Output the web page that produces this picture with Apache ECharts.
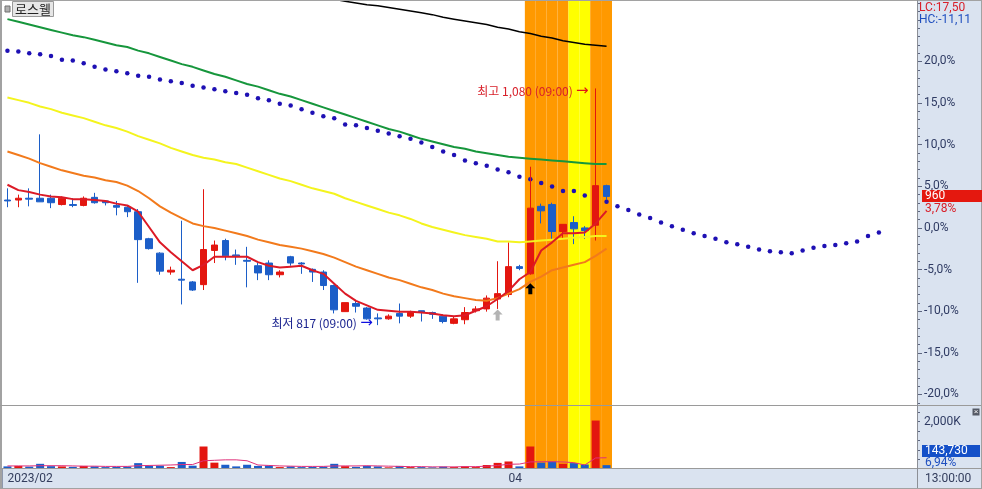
<!DOCTYPE html>
<html><head><meta charset="utf-8">
<script src="https://cdn.jsdelivr.net/npm/echarts@6.0.0/dist/echarts.min.js"></script>
<style>html,body{margin:0;padding:0;background:#fff}#c{width:982px;height:489px}</style>
</head><body><div id="c"></div>
<script>
// ---------------- data ----------------
const BASE = 925; // reference price for the % scale (960 = +3.78%)
const stockName = '로스웰';
const xTickLabels = {0: '2023/02', 46: '04'};
const categoryCount = 84;
const categories = Array.from({length: categoryCount}, (_, i) => 'D' + (i + 1));
// [open, close, low, high]
const ohlc = [
 [956,955,948,969],[956,958,948,962],[958,957,949,969],[958,954,954,1029],[958,953,947,962],
 [951,958,950,960],[951,950,948,958],[950,958,949,960],[959,953,952,964],[955,953,950,956],
 [950,948,939,955],[948,943,937,950],[943,912,864,946],[913,902,901,914],[897,877,873,898],
 [876,878,873,882],[868,867,840,933],[865,856,855,866],[862,901,856,968],[900,906,886,911],
 [911,894,889,913],[895,894,884,901],[889,888,859,904],[883,875,867,886],[886,873,867,889],
 [873,876,870,878],[893,886,883,894],[886,885,874,887],[879,876,865,880],[876,861,856,878],
 [861,834,830,862],[832,842,832,842],[841,838,831,845],[836,824,823,837],[825,824,817,830],
 [824,827,823,829],[830,827,819,841],[827,831,825,833],[833,831,821,833],[831,829,824,832],
 [827,821,819,829],[819,824,818,826],[823,831,818,837],[833,835,831,838],[835,847,832,850],
 [846,852,835,888],[851,882,848,909],[882,880,878,884],[874,947,873,993],[949,944,930,952],
 [951,921,912,953],[921,929,913,929],[931,924,907,938],[925,922,913,927],[928,972,911,1080],
 [972,960,956,973]
];
// volume, thousand shares
const volume = [90,110,80,200,100,90,70,110,90,60,70,80,230,110,120,60,280,120,940,250,
 160,90,160,110,120,60,90,60,70,80,200,100,70,110,90,50,110,60,60,50,
 80,60,90,60,150,240,300,90,940,250,300,200,230,170,2050,143.73];
const volumeAvg = [110,110,110,120,120,120,110,100,100,90,90,90,120,130,140,150,170,170,330,350,
 370,370,330,150,130,110,100,90,90,90,110,110,110,120,110,100,90,80,80,70,
 70,70,80,80,100,130,180,190,280,290,290,280,250,150,450,460];
const ma5 = [973,967,965,962,960,959,957,957,956,955,952,950,943,926,909,898,888,878,884,893,
 893,893,893,887,883,881,882,883,878,874,863,852,844,839,834,833,832,832,831,830,
 828,827,828,833,838,846,855,868,876,900,909,919,919,920,930,944];
const ma20 = [1010,1006,1002,997,993,989,986,983,981,978,976,972,966,958,949,942,936,930,927,925,
 922,919,916,912,909,906,904,902,899,896,892,887,882,878,874,870,867,863,859,856,
 852,849,847,845,844,847,852,857,865,871,878,881,884,887,894,902];
const ma60 = [1070,1067,1064,1060,1057,1053,1050,1047,1043,1039,1036,1032,1027,1023,1019,1014,1010,1006,1003,1001,
 998,996,992,988,984,980,977,973,969,966,963,958,954,950,946,942,939,935,930,926,
 923,920,917,915,913,910,910,909,910,911,912,913,914,915,916,916];
const ma120 = [1157,1154,1151,1148,1145,1142,1139,1137,1134,1131,1128,1126,1122,1119,1115,1111,1107,1104,1100,1096,
 1093,1089,1085,1082,1078,1074,1071,1067,1063,1059,1055,1051,1047,1043,1039,1035,1032,1028,1024,1021,
 1018,1015,1013,1010,1008,1006,1004,1003,1002,1001,1000,999,998,997,996,996];
const ma240 = [null,null,null,null,null,null,null,null,null,null,null,null,null,null,null,null,null,null,null,null,
 null,null,null,null,null,1189,1187,1184,1183,1181,1179,1177,1175,1173,1172,1170,1168,1166,1164,1162,
 1159,1157,1155,1153,1151,1148,1146,1143,1141,1138,1136,1133,1131,1129,1128,1127];
// forward-shifted line (drawn as dots), runs past the last candle
const leadLine = [1122,1121,1119,1118,1116,1112,1111,1108,1104,1101,1099,1097,1094,1093,1090,1088,1086,1083,1081,1079,
 1077,1075,1073,1069,1067,1063,1061,1057,1053,1049,1047,1040,1039,1036,1033,1030,1027,1024,1020,1015,
 1010,1006,1000,997,994,990,987,982,979,975,971,966,966,961,958,954,949,945,940,936,
 931,927,923,919,916,913,909,907,904,901,899,898,897,900,903,905,906,908,910,916,920];
const bands = [{from: 48, to: 52, kind: 'orange'}, {from: 52, to: 54, kind: 'yellow'}, {from: 54, to: 56, kind: 'orange'}];
const highMark = {index: 54, price: 1080, text: '최고 1,080 (09:00)'};
const lowMark = {index: 34, price: 817, text: '최저 817 (09:00)'};
const signals = [{index: 45, kind: 'gray'}, {index: 48, kind: 'black'}];
const pctTicks = [-20,-15,-10,-5,0,5,10,15,20];
const lastInfo = {price: '960', pct: '3,78%', vol: '143,730', volPct: '6,94%', lc: 'LC:17,50', hc: 'HC:-11,11', time: '13:00:00'};

// ---------------- chart ----------------
const RED = '#e3160f', BLUE = '#1c5ec8';
const NUMFONT = "Roboto, 'Liberation Sans', sans-serif";
const KRFONT = "'Noto Sans CJK KR', sans-serif";
const toPct = p => p == null ? null : (p / BASE - 1) * 100;
const ymax = 27.26, ymin = -21.27;
const chart = echarts.init(document.getElementById('c'));

const candleData = ohlc.map(([o, c, l, h]) => [toPct(o), toPct(c), toPct(l), toPct(h)]);
const bandColor = {orange: '#ff9900', yellow: '#ffff00'};
const bandData = categories.map((_, i) => {
  const b = bands.find(b => i >= b.from && i < b.to);
  return b ? {value: 1, itemStyle: {color: bandColor[b.kind]}} : '-';
});
const volData = volume.map((v, i) => ({value: v, itemStyle: {color: ohlc[i][1] >= ohlc[i][0] ? RED : BLUE}}));
const minorTicks = [];
for (let v = Math.ceil(ymin); v <= Math.floor(ymax); v++) minorTicks.push(v);
const arrowPath = 'path://M5,0 L10,5 L7,5 L7,11 L3,11 L3,5 L0,5 Z';

const lineS = (data, color, width, z) => ({
  type: 'line', xAxisIndex: 0, yAxisIndex: 0, data: data.map(toPct), symbol: 'none',
  lineStyle: {color, width}, z, silent: true, animation: false
});

const option = {
  backgroundColor: '#dae3f0',
  animation: false,
  grid: [
    {left: 2, width: 915, top: 1, height: 404, show: true, backgroundColor: '#ffffff', borderWidth: 0},
    {left: 2, width: 915, top: 406, height: 62.5, show: true, backgroundColor: '#ffffff', borderWidth: 0}
  ],
  xAxis: [
    {type: 'category', gridIndex: 0, data: categories, boundaryGap: true, show: false},
    {type: 'category', gridIndex: 1, data: categories, boundaryGap: true,
      axisLine: {show: true, lineStyle: {color: '#9da3ad', width: 1}},
      axisTick: {show: true, length: 20, interval: (i) => xTickLabels[i] !== undefined && i > 0, lineStyle: {color: '#8e98ad'}},
      axisLabel: {show: true, interval: (i) => xTickLabels[i] !== undefined, formatter: (v, i) => xTickLabels[i] || '',
        align: 'left', margin: 4, color: '#333d5c', fontSize: 12, fontFamily: NUMFONT}},
    {type: 'category', gridIndex: 1, data: categories, boundaryGap: true, show: false}
  ],
  yAxis: [
    {type: 'value', gridIndex: 0, position: 'right', min: ymin, max: ymax, splitLine: {show: false},
      axisLine: {show: true, lineStyle: {color: '#8c8f96'}},
      axisTick: {show: true, length: 5, customValues: pctTicks, lineStyle: {color: '#5d6680'}},
      axisLabel: {show: true, customValues: pctTicks, margin: 7, color: '#2f3b63', fontSize: 12, fontFamily: NUMFONT,
        formatter: v => v.toFixed(1).replace('.', ',') + '%'}},
    {type: 'value', gridIndex: 0, position: 'right', min: ymin, max: ymax, splitLine: {show: false},
      axisLine: {show: false}, axisLabel: {show: false},
      axisTick: {show: true, length: 3, customValues: minorTicks, lineStyle: {color: '#5d6680'}}},
    {type: 'value', gridIndex: 0, min: 0, max: 1, show: false},
    {type: 'value', gridIndex: 1, position: 'right', min: 0, max: 2671, splitLine: {show: false},
      axisLine: {show: true, lineStyle: {color: '#8c8f96'}},
      axisTick: {show: true, length: 3, customValues: [400, 800, 1200, 1600, 2000, 2400], lineStyle: {color: '#5d6680'}},
      axisLabel: {show: true, customValues: [2000], margin: 7, color: '#2f3b63', fontSize: 12, fontFamily: NUMFONT,
        formatter: v => (v).toLocaleString('en-US') + 'K'}},
    {type: 'value', gridIndex: 1, min: 0, max: 1, show: false}
  ],
  series: [
    {type: 'bar', xAxisIndex: 0, yAxisIndex: 2, data: bandData, barWidth: '100%', z: 0, silent: true},
    {type: 'bar', xAxisIndex: 2, yAxisIndex: 4, data: bandData, barWidth: '100%', z: 0, silent: true},
    {type: 'line', xAxisIndex: 0, yAxisIndex: 0, data: leadLine.map(toPct), symbol: 'circle', symbolSize: 4.5,
      showSymbol: true, showAllSymbol: true, itemStyle: {color: '#1e10b4'}, lineStyle: {opacity: 0, width: 0}, z: 1, silent: true},
    {type: 'candlestick', xAxisIndex: 0, yAxisIndex: 0, data: candleData, barWidth: 7, z: 2,
      itemStyle: {color: RED, color0: BLUE, borderColor: RED, borderColor0: BLUE, borderWidth: 1},
      markPoint: {
        symbol: 'circle', symbolSize: 0, silent: true, animation: false,
        data: [
          {coord: [highMark.index, toPct(highMark.price)], symbolSize: 0,
            label: {show: true, position: 'left', distance: 7, offset: [0, 3],
              formatter: '{t|' + highMark.text + '} {a|→}',
              rich: {t: {color: '#d8202a', fontSize: 12, fontFamily: KRFONT}, a: {color: '#e01515', fontSize: 15, fontFamily: "'DejaVu Sans'"}}}},
          {coord: [lowMark.index, toPct(lowMark.price)], symbolSize: 0,
            label: {show: true, position: 'left', distance: 5, offset: [0, -2],
              formatter: '{t|' + lowMark.text + '} {a|→}',
              rich: {t: {color: '#1c2590', fontSize: 12, fontFamily: KRFONT}, a: {color: '#1010e0', fontSize: 15, fontFamily: "'DejaVu Sans'"}}}},
          ...signals.map(s => ({coord: [s.index, toPct(ohlc[s.index][2])], symbol: arrowPath, symbolSize: [10, 11],
            symbolOffset: [0, s.kind === 'black' ? 14 : 6], itemStyle: {color: s.kind === 'black' ? '#000000' : '#b4b4b4'}, label: {show: false}}))
        ]
      }},
    lineS(ma240, '#000000', 1.5, 3),
    lineS(ma120, '#16963c', 2, 3),
    lineS(ma60, '#f4f41e', 2, 3),
    lineS(ma20, '#f27a1c', 2, 3),
    lineS(ma5, '#dc1a26', 2, 4),
    {type: 'bar', xAxisIndex: 1, yAxisIndex: 3, data: volData, barWidth: 8, z: 2, silent: true},
    {type: 'line', xAxisIndex: 1, yAxisIndex: 3, data: volumeAvg, symbol: 'none', lineStyle: {color: '#e0307a', width: 1}, z: 3, silent: true}
  ]
};
chart.setOption(option);

// overlays placed through the library's scales
const lastIdx = ohlc.length - 1;
const pY = chart.convertToPixel({xAxisIndex: 0, yAxisIndex: 0}, [lastIdx, toPct(ohlc[lastIdx][1])])[1];
const gfx = [
  {type: 'rect', shape: {x: 0, y: 0, width: 2, height: 489}, style: {fill: '#a2a2a2'}, z: 50},
  {type: 'line', shape: {x1: 0, y1: 0.5, x2: 982, y2: 0.5}, style: {stroke: '#a2a2a2', lineWidth: 1}, z: 50},
  {type: 'line', shape: {x1: 0, y1: 405.5, x2: 982, y2: 405.5}, style: {stroke: '#9a9a9a', lineWidth: 1}, z: 50},
  {type: 'line', shape: {x1: 0, y1: 468.5, x2: 982, y2: 468.5}, style: {stroke: '#9a9a9a', lineWidth: 1}, z: 50},
  {type: 'line', shape: {x1: 917.5, y1: 0, x2: 917.5, y2: 489}, style: {stroke: '#8c8f96', lineWidth: 1}, z: 50},
  {type: 'line', shape: {x1: 981.5, y1: 0, x2: 981.5, y2: 489}, style: {stroke: '#a2a2a2', lineWidth: 1}, z: 50},
  {type: 'line', shape: {x1: 0, y1: 488.5, x2: 982, y2: 488.5}, style: {stroke: '#a2a2a2', lineWidth: 1}, z: 50},
  // name tag
  {type: 'rect', shape: {x: 5, y: 6, width: 5, height: 6}, style: {fill: '#b0b0b0', stroke: '#707070', lineWidth: 1}, z: 50},
  {type: 'rect', shape: {x: 12.5, y: 1.5, width: 41, height: 15}, style: {fill: '#e6e6e6', stroke: '#9a9a9a', lineWidth: 1}, z: 50},
  {type: 'text', x: 33, y: 9, style: {text: stockName, fill: '#222', font: "13px 'Noto Sans CJK KR'", align: 'center', verticalAlign: 'middle'}, z: 51},
  // right panel texts
  {type: 'text', x: 919, y: 8, style: {text: lastInfo.lc, fill: '#d8202a', font: '12px ' + NUMFONT, verticalAlign: 'middle'}, z: 51},
  {type: 'text', x: 919, y: 20, style: {text: lastInfo.hc, fill: '#1f4fbf', font: '12px ' + NUMFONT, verticalAlign: 'middle'}, z: 51},
  {type: 'rect', shape: {x: 922, y: Math.round(pY) - 6, width: 60, height: 12}, style: {fill: '#e4180f'}, z: 51},
  {type: 'text', x: 925, y: Math.round(pY), style: {text: lastInfo.price, fill: '#ffffff', font: '12px ' + NUMFONT, verticalAlign: 'middle'}, z: 52},
  {type: 'text', x: 925, y: Math.round(pY) + 13, style: {text: lastInfo.pct, fill: '#d8202a', font: '12px ' + NUMFONT, verticalAlign: 'middle'}, z: 52},
  {type: 'rect', shape: {x: 922, y: 445, width: 58, height: 12}, style: {fill: '#1450c8'}, z: 51},
  {type: 'text', x: 925, y: 451, style: {text: lastInfo.vol, fill: '#ffffff', font: '12px ' + NUMFONT, verticalAlign: 'middle'}, z: 52},
  {type: 'text', x: 925, y: 462.5, style: {text: lastInfo.volPct, fill: '#1f4fbf', font: '12px ' + NUMFONT, verticalAlign: 'middle'}, z: 52},
  {type: 'rect', shape: {x: 972.5, y: 408.5, width: 7, height: 7}, style: {fill: '#555a66'}, z: 51},
  {type: 'text', x: 976, y: 412, style: {text: '×', fill: '#ffffff', font: '8px sans-serif', align: 'center', verticalAlign: 'middle'}, z: 52},
  {type: 'text', x: 925, y: 479, style: {text: lastInfo.time, fill: '#333d5c', font: '12px ' + NUMFONT, verticalAlign: 'middle'}, z: 51}
];
chart.setOption({graphic: gfx});
</script></body></html>
